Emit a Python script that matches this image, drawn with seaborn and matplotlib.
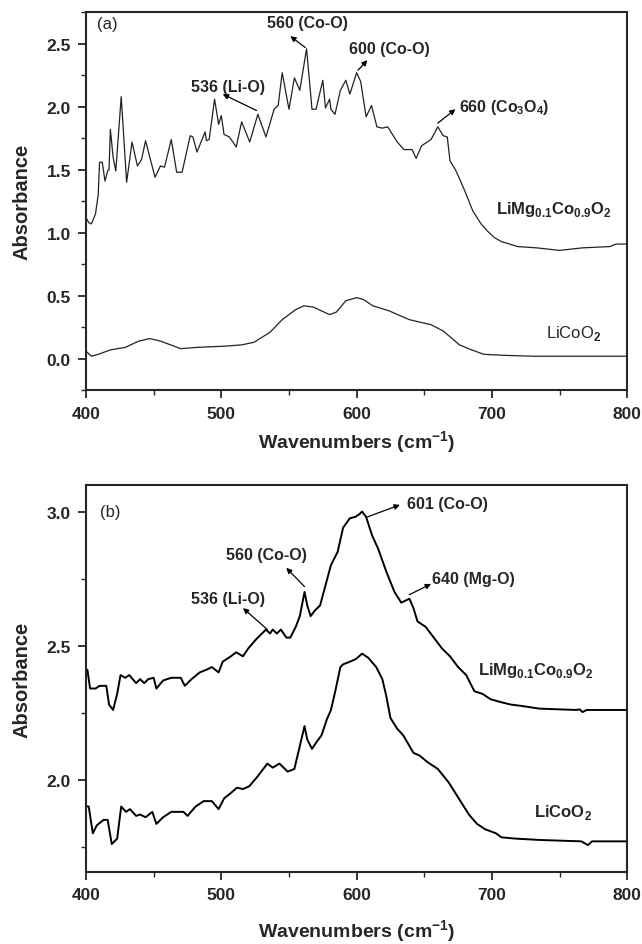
import matplotlib
matplotlib.use("Agg")
import matplotlib.pyplot as plt
import matplotlib.ticker as mtick
import seaborn as sns

# panel (a): absorbance spectra
a_limg_wn = [400, 402, 404, 407, 409, 410, 412, 414, 416, 417, 418, 420, 422, 426, 430, 434, 438, 441,
             444, 451, 455, 458, 463, 467, 471, 477, 479, 482, 488, 489, 491, 495, 498, 500, 502, 506,
             511, 515, 521, 527, 533, 539, 542, 545, 550, 554, 558, 563, 567, 570, 575, 577, 580, 581,
             584, 588, 592, 595, 600, 603, 607, 611, 615, 619, 623, 630, 635, 641, 644, 648, 655, 660,
             664, 667, 669, 673, 676, 680, 686, 692, 697, 702, 707, 713, 719, 733, 750, 767, 787, 792, 800]
a_limg_abs = [1.12, 1.08, 1.07, 1.15, 1.30, 1.56, 1.56, 1.41, 1.49, 1.50, 1.82, 1.60, 1.49, 2.08, 1.40,
              1.72, 1.53, 1.58, 1.73, 1.44, 1.53, 1.52, 1.74, 1.48, 1.48, 1.77, 1.76, 1.64, 1.80, 1.73,
              1.74, 2.06, 1.86, 1.93, 1.78, 1.76, 1.68, 1.88, 1.72, 1.94, 1.76, 1.98, 2.01, 2.27, 1.98,
              2.23, 2.13, 2.46, 1.98, 1.98, 2.21, 1.99, 2.06, 1.98, 1.94, 2.13, 2.21, 2.10, 2.27, 2.20,
              1.92, 2.01, 1.84, 1.83, 1.84, 1.72, 1.66, 1.66, 1.59, 1.69, 1.74, 1.84, 1.77, 1.76, 1.57,
              1.50, 1.43, 1.33, 1.17, 1.07, 1.01, 0.96, 0.93, 0.91, 0.89, 0.88, 0.86, 0.88, 0.89, 0.91, 0.91]

a_lco_wn = [400, 404, 409, 418, 429, 439, 447, 455, 470, 482, 503, 515, 524, 536, 545, 555, 561, 568,
            576, 580, 585, 592, 600, 605, 612, 624, 639, 655, 664, 676, 685, 694, 709, 730, 800]
a_lco_abs = [0.06, 0.02, 0.035, 0.07, 0.09, 0.14, 0.16, 0.14, 0.08, 0.09, 0.10, 0.11, 0.13, 0.21, 0.31,
             0.39, 0.42, 0.41, 0.37, 0.35, 0.37, 0.46, 0.485, 0.47, 0.42, 0.38, 0.31, 0.27, 0.22, 0.11,
             0.07, 0.035, 0.027, 0.02, 0.02]

# panel (b)
b_limg_wn = [400, 401, 403, 407, 410, 415, 417, 420, 423, 425.5, 429, 432, 437, 440, 443, 446, 450, 452,
             457, 463, 470, 473, 478, 484, 489, 493, 498, 501, 507, 511, 516, 520, 526, 533, 536, 538,
             541, 544, 548, 551, 555, 558, 561.5, 563.5, 566, 569, 573, 577, 581, 586, 590, 595, 599,
             602, 604, 607, 611.5, 616, 622, 628, 633, 637, 639, 642, 645, 651, 657, 663, 669, 675, 681,
             687, 693, 699, 706, 714, 722, 735, 762, 765, 767, 770, 800]
b_limg_abs = [2.40, 2.41, 2.34, 2.34, 2.35, 2.35, 2.28, 2.26, 2.32, 2.39, 2.38, 2.39, 2.36, 2.375, 2.36,
              2.375, 2.38, 2.34, 2.37, 2.38, 2.38, 2.35, 2.375, 2.40, 2.41, 2.42, 2.40, 2.44, 2.46, 2.475,
              2.46, 2.49, 2.525, 2.56, 2.545, 2.56, 2.545, 2.56, 2.53, 2.53, 2.57, 2.61, 2.70, 2.65, 2.61,
              2.63, 2.65, 2.725, 2.80, 2.85, 2.94, 2.975, 2.98, 2.99, 3.00, 2.98, 2.91, 2.86, 2.775, 2.70,
              2.66, 2.67, 2.675, 2.64, 2.59, 2.57, 2.53, 2.49, 2.46, 2.42, 2.39, 2.33, 2.32, 2.30, 2.29,
              2.28, 2.275, 2.265, 2.26, 2.262, 2.252, 2.26, 2.26]

b_lco_wn = [400, 402, 405, 408, 413, 416, 419, 423, 426, 429.5, 432.5, 437, 440, 444, 449, 452, 457, 463,
            472, 475, 481, 487, 493, 498, 502, 507, 511.5, 516, 520.5, 526.5, 534, 538, 543, 549, 554,
            557.5, 561.5, 563.5, 567, 571, 574, 578, 581, 584, 588, 590, 595, 599.5, 604, 608.5, 614.5,
            619, 622, 625, 630, 634.5, 642, 646.5, 652.5, 660, 668, 675.5, 683, 689, 695, 703, 707, 718,
            736, 766, 771, 774, 800]
b_lco_abs = [1.90, 1.90, 1.80, 1.83, 1.85, 1.85, 1.76, 1.78, 1.90, 1.88, 1.89, 1.865, 1.87, 1.86, 1.88,
             1.835, 1.86, 1.88, 1.88, 1.865, 1.90, 1.92, 1.92, 1.89, 1.93, 1.95, 1.97, 1.965, 1.975, 2.01,
             2.06, 2.045, 2.06, 2.03, 2.04, 2.115, 2.20, 2.15, 2.115, 2.145, 2.165, 2.225, 2.26, 2.325,
             2.42, 2.43, 2.44, 2.45, 2.47, 2.455, 2.42, 2.375, 2.31, 2.23, 2.19, 2.165, 2.10, 2.09, 2.065,
             2.04, 1.99, 1.93, 1.87, 1.835, 1.815, 1.80, 1.785, 1.78, 1.775, 1.77, 1.756, 1.77, 1.77]

sns.set_style("ticks")
plt.rcParams['font.family'] = ['Liberation Sans', 'DejaVu Sans']
plt.rcParams['font.weight'] = 'bold'
plt.rcParams['mathtext.fontset'] = 'custom'
plt.rcParams['mathtext.rm'] = 'Liberation Sans'
plt.rcParams['mathtext.bf'] = 'Liberation Sans:bold'

fig = plt.figure(figsize=(6.42, 9.45), dpi=100)
ax_a = fig.add_axes([0.134, 0.586, 0.843, 0.400])
ax_b = fig.add_axes([0.134, 0.076, 0.843, 0.410])

sns.lineplot(x=a_limg_wn, y=a_limg_abs, ax=ax_a, color='#222222', lw=0.9, sort=False, estimator=None)
sns.lineplot(x=a_lco_wn, y=a_lco_abs, ax=ax_a, color='#222222', lw=0.9, sort=False, estimator=None)
sns.lineplot(x=b_limg_wn, y=b_limg_abs, ax=ax_b, color='black', lw=1.4, sort=False, estimator=None)
sns.lineplot(x=b_lco_wn, y=b_lco_abs, ax=ax_b, color='black', lw=1.4, sort=False, estimator=None)

limg = r'LiMg$_{\mathbf{0.1}}$Co$_{\mathbf{0.9}}$O$_{\mathbf{2}}$'
arrow = dict(arrowstyle='-|>', color='black', lw=0.9, mutation_scale=8, shrinkA=0, shrinkB=0)

ax_a.set_ylim(-0.25, 2.75)
ax_a.yaxis.set_major_locator(mtick.MultipleLocator(0.5))
ax_a.yaxis.set_minor_locator(mtick.MultipleLocator(0.25))
ax_a.text(408, 2.66, '(a)', fontsize=12, fontweight='normal', va='center')
ax_a.annotate('', xy=(551, 2.56), xytext=(562, 2.47), arrowprops=arrow)
ax_a.text(564, 2.67, '560 (Co-O)', fontsize=11.5, ha='center', va='center')
ax_a.annotate('', xy=(608, 2.37), xytext=(601, 2.29), arrowprops=arrow)
ax_a.text(624, 2.46, '600 (Co-O)', fontsize=11.5, ha='center', va='center')
ax_a.annotate('', xy=(501, 2.10), xytext=(526, 1.97), arrowprops=arrow)
ax_a.text(505, 2.16, '536 (Li-O)', fontsize=11.5, ha='center', va='center')
ax_a.annotate('', xy=(673, 1.98), xytext=(660, 1.87), arrowprops=arrow)
ax_a.text(676, 2.0, r'660 (Co$_{\mathbf{3}}$O$_{\mathbf{4}}$)', fontsize=11.5, ha='left', va='center')
ax_a.text(703, 1.19, limg, fontsize=12, ha='left', va='center')
ax_a.text(740, 0.21, r'LiCoO$_{2}$', fontsize=12, fontweight='normal', ha='left', va='center')

ax_b.set_ylim(1.655, 3.1)
ax_b.yaxis.set_major_locator(mtick.FixedLocator([2.0, 2.5, 3.0]))
ax_b.yaxis.set_minor_locator(mtick.FixedLocator([1.75, 2.25, 2.75]))
ax_b.text(410, 3.0, '(b)', fontsize=12, fontweight='normal', va='center')
ax_b.annotate('', xy=(632, 3.025), xytext=(608, 2.98), arrowprops=arrow)
ax_b.text(637, 3.03, '601 (Co-O)', fontsize=11.5, ha='left', va='center')
ax_b.annotate('', xy=(548, 2.79), xytext=(561.5, 2.72), arrowprops=arrow)
ax_b.text(533, 2.84, '560 (Co-O)', fontsize=11.5, ha='center', va='center')
ax_b.annotate('', xy=(655, 2.73), xytext=(639, 2.69), arrowprops=arrow)
ax_b.text(656, 2.75, '640 (Mg-O)', fontsize=11.5, ha='left', va='center')
ax_b.annotate('', xy=(516, 2.64), xytext=(534, 2.56), arrowprops=arrow)
ax_b.text(505, 2.675, '536 (Li-O)', fontsize=11.5, ha='center', va='center')
ax_b.text(690, 2.41, limg, fontsize=12, ha='left', va='center')
ax_b.text(731, 1.88, r'LiCoO$_{\mathbf{2}}$', fontsize=12, ha='left', va='center')

for ax, xlab_y in [(ax_a, -0.1), (ax_b, -0.118)]:
    ax.set_xlim(400, 800)
    ax.xaxis.set_major_locator(mtick.MultipleLocator(100))
    ax.xaxis.set_minor_locator(mtick.MultipleLocator(50))
    ax.yaxis.set_major_formatter(mtick.FormatStrFormatter('%.1f'))
    for s in ax.spines.values():
        s.set_visible(True)
        s.set_linewidth(1.5)
    ax.tick_params(which='major', direction='out', length=6, width=1.3, labelsize=12.5, pad=5,
                   top=False, right=False)
    ax.tick_params(which='minor', direction='out', length=3.5, width=1.0, top=False, right=False)
    ax.set_xlabel(r'Wavenumbers (cm$^{\mathbf{-1}}$)', fontsize=14, fontweight='bold')
    ax.set_ylabel('Absorbance', fontsize=14.5, fontweight='bold')
    ax.xaxis.set_label_coords(0.5, xlab_y)
    ax.yaxis.set_label_coords(-0.10, 0.5)

fig.savefig('out.png', dpi=100)
